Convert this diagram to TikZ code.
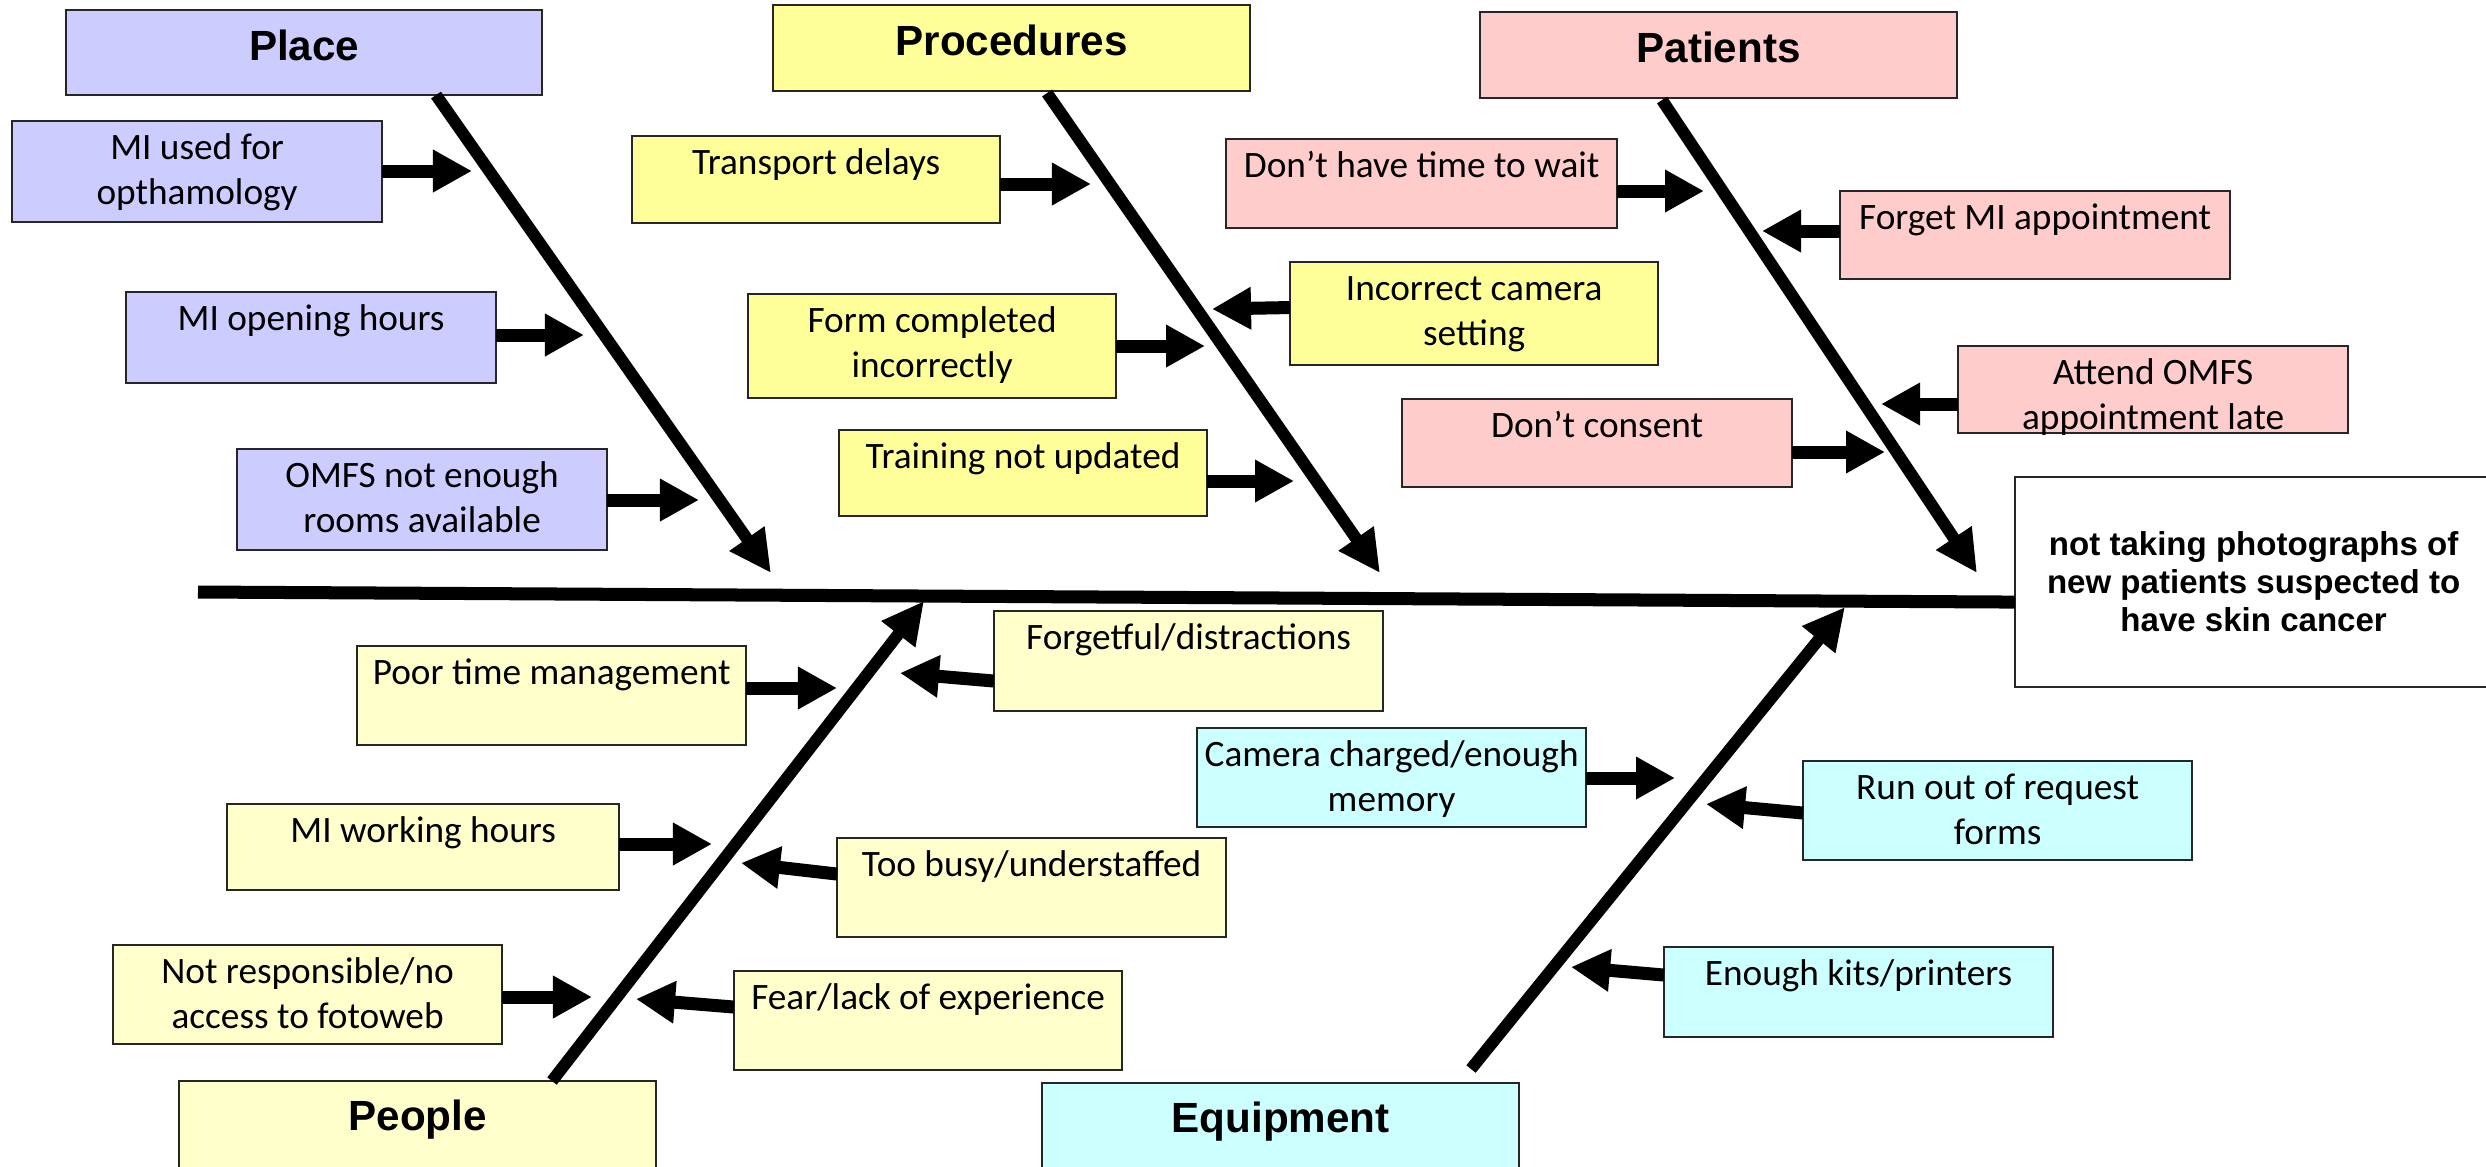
\documentclass[tikz,border=0pt]{standalone}
\usepackage{fontspec}
\setmainfont{Carlito}
\newfontfamily\headfont{Liberation Sans}
\usetikzlibrary{arrows.meta,calc}

\definecolor{placefill}{HTML}{CCCCFF}
\definecolor{procfill}{HTML}{FFFF99}
\definecolor{patfill}{HTML}{FFCCCC}
\definecolor{peoplefill}{HTML}{FFFFCC}
\definecolor{equipfill}{HTML}{CCFFFF}

\tikzset{
  card/.style={draw=black!85, line width=0.6pt, anchor=north west, inner sep=0pt, outer sep=0pt},
  causetext/.style={anchor=north, inner sep=0pt, align=center, font=\fontsize{10.6}{12.6}\selectfont},
  headtext/.style={anchor=base, inner sep=0pt, font=\headfont\bfseries\fontsize{12}{14}\selectfont},
  bone/.style={line width=3.4pt, -{Triangle[length=0.42cm,width=0.40cm]}},
  feed/.style={line width=3.7pt, -{Triangle[length=0.39cm,width=0.40cm]}},
}

% cause card: name, x, y (top left), width, height (cm), fill, text
\newcommand\causecard[7]{%
  \node[card, minimum width=#4cm, minimum height=#5cm, fill=#6] (#1) at (#2,#3) {};
  \node[causetext] (#1-t) at ($(#1.north)+(0,7)$) {\strut #7};}

\begin{document}
\begin{tikzpicture}[x=0.01cm, y=-0.01cm]
\fill[white] (0,0) rectangle (2486,1166);
\useasboundingbox (0,0) rectangle (2486,1166);

% categories
\node[card, minimum width=4.76cm, minimum height=0.85cm, fill=placefill] (place) at (66,10) {};
\node[headtext] (place-t) at ($(place.north)+(0,50)$) {Place};
\node[card, minimum width=4.77cm, minimum height=0.86cm, fill=procfill] (proc) at (773,5) {};
\node[headtext] (proc-t) at ($(proc.north)+(0,50)$) {Procedures};
\node[card, minimum width=4.77cm, minimum height=0.86cm, fill=patfill] (pat) at (1480,12) {};
\node[headtext] (pat-t) at ($(pat.north)+(0,50)$) {Patients};
\node[card, minimum width=4.77cm, minimum height=1.2cm, fill=peoplefill] (people) at (179,1081) {};
\node[headtext] (people-t) at ($(people.north)+(0,49)$) {People};
\node[card, minimum width=4.77cm, minimum height=1.2cm, fill=equipfill] (equip) at (1042,1083) {};
\node[headtext] (equip-t) at ($(equip.north)+(0,49)$) {Equipment};

% effect
\node[card, minimum width=4.77cm, minimum height=2.10cm, fill=white, align=center,
      font=\headfont\bfseries\fontsize{9.4}{10.8}\selectfont] (effect) at (2015,477)
  {not taking photographs of\\new patients suspected to\\have skin cancer};

% causes: place
\causecard{mi1}{12}{121}{3.70}{1.01}{placefill}{MI used for\\opthamology}
\causecard{mi2}{126}{292}{3.70}{0.91}{placefill}{MI opening hours}
\causecard{omfs}{237}{449}{3.70}{1.01}{placefill}{OMFS not enough\\rooms available}
% causes: procedures
\causecard{tr}{632}{136}{3.68}{0.87}{procfill}{Transport delays}
\causecard{fc}{748}{294}{3.68}{1.04}{procfill}{Form completed\\incorrectly}
\causecard{tn}{839}{430}{3.68}{0.86}{procfill}{Training not updated}
\causecard{ic}{1290}{262}{3.68}{1.03}{procfill}{Incorrect camera\\setting}
% causes: patients
\causecard{dh}{1226}{139}{3.91}{0.89}{patfill}{Don’t have time to wait}
\causecard{fm}{1840}{191}{3.90}{0.88}{patfill}{Forget MI appointment}
\causecard{ao}{1958}{346}{3.90}{0.87}{patfill}{Attend OMFS\\appointment late}
\causecard{dc}{1402}{399}{3.90}{0.88}{patfill}{Don’t consent}
% causes: people
\causecard{ptm}{357}{646}{3.89}{0.99}{peoplefill}{Poor time management}
\causecard{miw}{227}{804}{3.92}{0.86}{peoplefill}{MI working hours}
\causecard{nr}{113}{945}{3.89}{0.99}{peoplefill}{Not responsible/no\\access to fotoweb}
\causecard{fd}{994}{611}{3.89}{1.00}{peoplefill}{Forgetful/distractions}
\causecard{tb}{837}{838}{3.89}{0.99}{peoplefill}{Too busy/understaffed}
\causecard{fl}{734}{971}{3.88}{0.99}{peoplefill}{Fear/lack of experience}
% causes: equipment
\causecard{cc}{1197}{728}{3.89}{0.99}{equipfill}{Camera charged/enough\\memory}
\causecard{ro}{1803}{761}{3.89}{0.99}{equipfill}{Run out of request\\forms}
\causecard{ek}{1664}{947}{3.89}{0.90}{equipfill}{Enough kits/printers}

% spine
\coordinate (spineL) at (198,592);
\coordinate (spineR) at ($(effect.west)+(0,20)$);
\draw[line width=3.7pt] (spineL) -- (spineR);

% bones
\coordinate (placeTip) at (771,573);
\coordinate (procTip) at (1380,573);
\coordinate (patTip) at (1977,573);
\coordinate (peopleTip) at (924,601);
\coordinate (equipTip) at (1845,607);
\draw[bone] ($(place.south west)+(370,0)$) -- (placeTip);
\draw[bone] ($(proc.south west)+(274,2)$) -- (procTip);
\draw[bone] ($(pat.south west)+(182,2)$) -- (patTip);
\draw[bone] ($(people.north west)+(373,0)$) -- (peopleTip);
\draw[bone] ($(equip.north west)+(429,-14)$) -- (equipTip);

% feeding arrows
\coordinate (mi1Tip) at (472,171);
\coordinate (mi2Tip) at (584,335);
\coordinate (omfsTip) at (699,500);
\draw[feed] (mi1.east |- mi1Tip) -- (mi1Tip);
\draw[feed] (mi2.east |- mi2Tip) -- (mi2Tip);
\draw[feed] (omfs.east |- omfsTip) -- (omfsTip);

\coordinate (trTip) at (1091,184);
\coordinate (fcTip) at (1205,346);
\coordinate (tnTip) at (1294,481);
\coordinate (icTip) at (1212,309);
\draw[feed] (tr.east |- trTip) -- (trTip);
\draw[feed] (fc.east |- fcTip) -- (fcTip);
\draw[feed] (tn.east |- tnTip) -- (tnTip);
\draw[feed] ($(ic.west)+(0,-6)$) -- (icTip);

\coordinate (dhTip) at (1704,191);
\coordinate (fmTip) at (1762,231);
\coordinate (aoTip) at (1881,404);
\coordinate (dcTip) at (1885,452);
\draw[feed] (dh.east |- dhTip) -- (dhTip);
\draw[feed] (fm.west |- fmTip) -- (fmTip);
\draw[feed] (ao.west |- aoTip) -- (aoTip);
\draw[feed] (dc.east |- dcTip) -- (dcTip);

\coordinate (ptmTip) at (837,688);
\coordinate (miwTip) at (712,844);
\coordinate (nrTip) at (592,997);
\coordinate (fdTip) at (900,673);
\coordinate (tbTip) at (741,863);
\coordinate (flTip) at (636,999);
\draw[feed] (ptm.east |- ptmTip) -- (ptmTip);
\draw[feed] (miw.east |- miwTip) -- (miwTip);
\draw[feed] (nr.east |- nrTip) -- (nrTip);
\draw[feed] ($(fd.west)+(0,20)$) -- (fdTip);
\draw[feed] ($(tb.west)+(0,-13.5)$) -- (tbTip);
\draw[feed] ($(fl.west)+(0,-13.5)$) -- (flTip);

\coordinate (ccTip) at (1675,778);
\coordinate (roTip) at (1706,804);
\coordinate (ekTip) at (1571,967);
\draw[feed] (cc.east |- ccTip) -- (ccTip);
\draw[feed] ($(ro.west)+(0,2.5)$) -- (roTip);
\draw[feed] ($(ek.west)+(0,-17)$) -- (ekTip);
\end{tikzpicture}
\end{document}
